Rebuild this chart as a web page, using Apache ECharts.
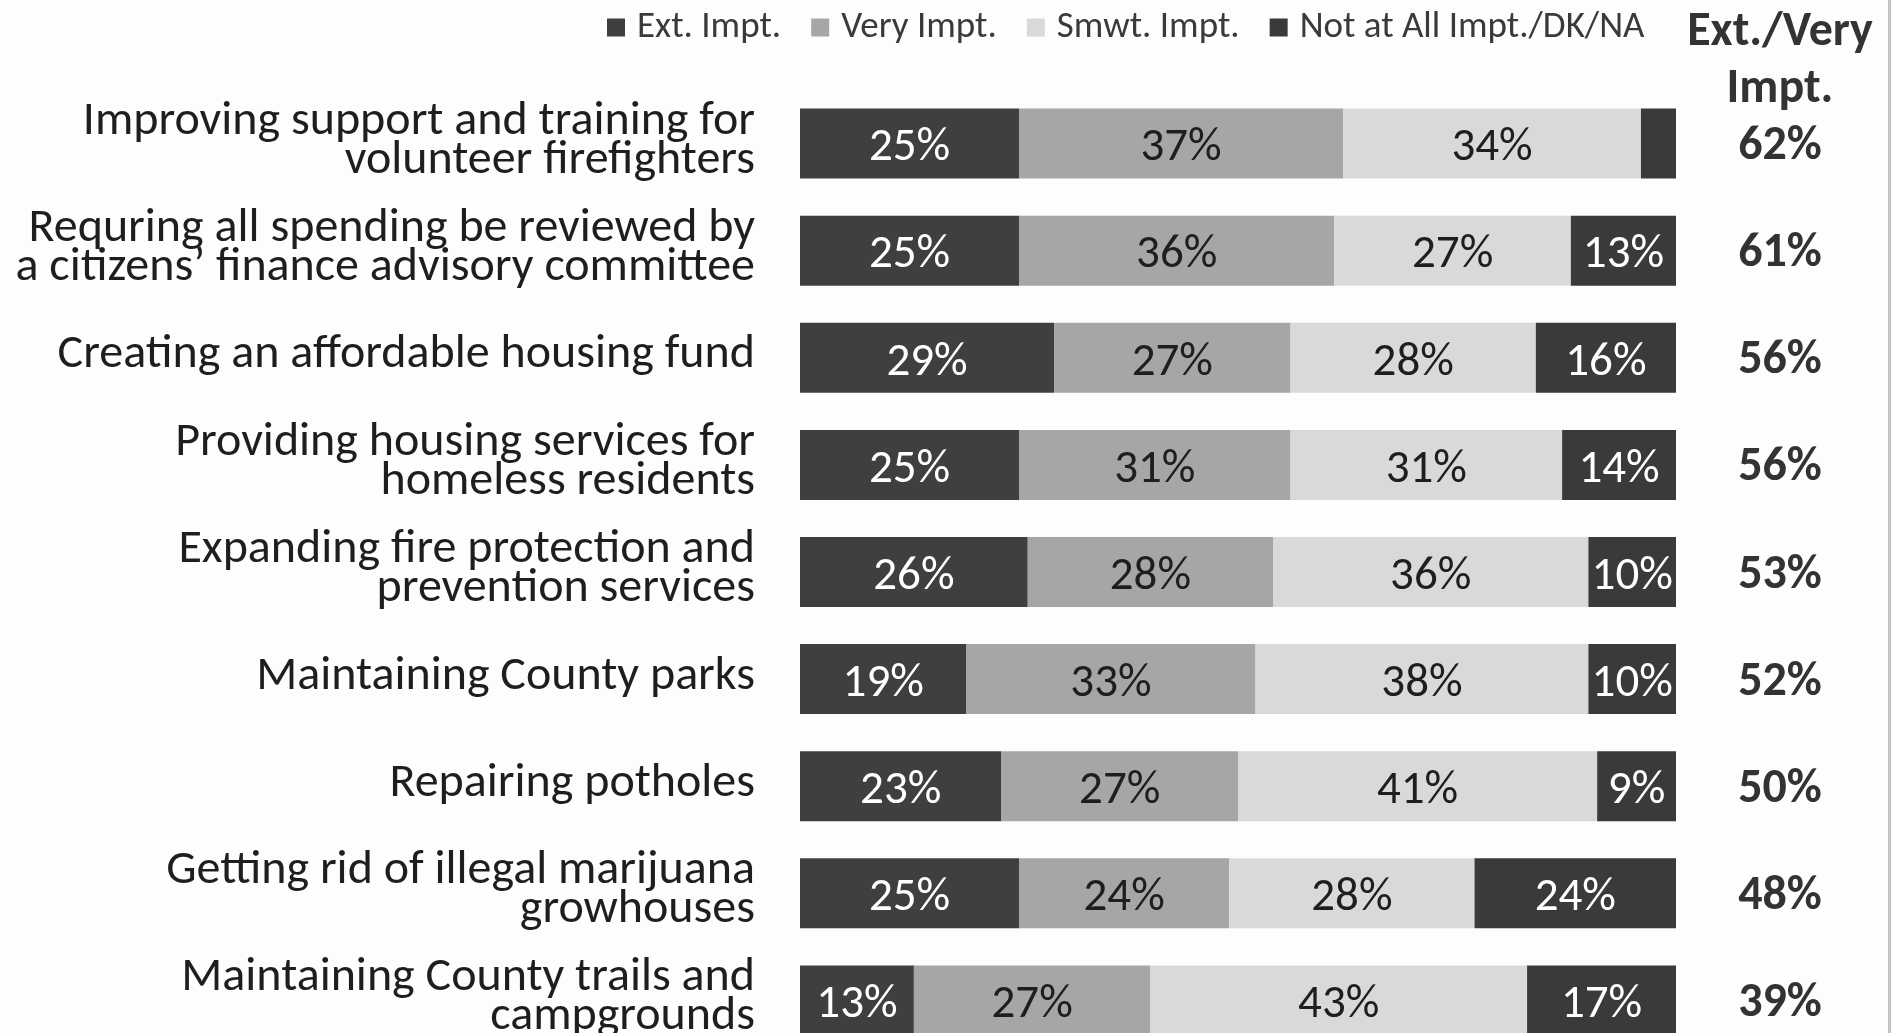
<!DOCTYPE html>
<html>
<head>
<meta charset="utf-8">
<script src="https://cdn.jsdelivr.net/npm/echarts@6/dist/echarts.min.js"></script>
<style>
html,body{margin:0;padding:0;background:#fdfdfd;}
#c{width:1893px;height:1033px;}
</style>
</head>
<body>
<div id="c"></div>
<script>
const categories = [
  "Improving support and training for\nvolunteer firefighters",
  "Requring all spending be reviewed by\na citizens\u2019 finance advisory committee",
  "Creating an affordable housing fund",
  "Providing housing services for\nhomeless residents",
  "Expanding fire protection and\nprevention services",
  "Maintaining County parks",
  "Repairing potholes",
  "Getting rid of illegal marijuana\ngrowhouses",
  "Maintaining County trails and\ncampgrounds"
];
const seriesNames = ["Ext. Impt.", "Very Impt.", "Smwt. Impt.", "Not at All Impt./DK/NA"];
const extImpt   = [25, 25, 29, 25, 26, 19, 23, 25, 13];
const veryImpt  = [37, 36, 27, 31, 28, 33, 27, 24, 27];
const smwtImpt  = [34, 27, 28, 31, 36, 38, 41, 28, 43];
const notAtAll  = [4, 13, 16, 14, 10, 10, 9, 24, 17];
const extVery   = [62, 61, 56, 56, 53, 52, 50, 48, 39];
const headerText = "Ext./Very\nImpt.";

const FONT = "Carlito, Lato, 'Open Sans', sans-serif";
const colors = ["#3f3f3f", "#a6a6a6", "#d9d9d9", "#3a3a3a"];
const labelColors = ["#ffffff", "#1e1e1e", "#1e1e1e", "#ffffff"];
const allData = [extImpt, veryImpt, smwtImpt, notAtAll];

const chart = echarts.init(document.getElementById('c'));
const series = allData.map((arr, i) => ({
  name: seriesNames[i],
  type: 'bar',
  stack: 'total',
  barWidth: 70,
  clip: true,
  itemStyle: { color: colors[i] },
  label: {
    show: true,
    position: 'inside',
    offset: [0, 5],
    formatter: p => p.value + '%',
    color: labelColors[i],
    fontFamily: FONT,
    fontSize: 47
  },
  emphasis: { disabled: true },
  data: arr.map(v => v < 5 ? { value: v, label: { show: false } } : v)
}));

chart.setOption({
  backgroundColor: '#fdfdfd',
  animation: false,
  legend: {
    data: seriesNames,
    left: 602,
    top: 4,
    icon: 'rect',
    itemWidth: 18,
    itemHeight: 18,
    itemGap: 30,
    selectedMode: false,
    textStyle: { fontFamily: FONT, fontSize: 37, color: '#3a3a3a', padding: [0, 0, 0, 7] }
  },
  graphic: [
    {
      type: 'text',
      x: 1780, y: 4,
      style: {
        text: headerText,
        fontFamily: FONT, fontSize: 48, fontWeight: 'bold',
        fill: '#333333', textAlign: 'center', lineHeight: 57
      }
    },
    {
      type: 'rect',
      shape: { x: 1888, y: 0, width: 3, height: 1033 },
      style: { fill: '#c4c4c4' },
      silent: true
    }
  ],
  grid: { left: 800, top: 90, width: 876, height: 964, outerBoundsMode: 'none', containLabel: false },
  xAxis: {
    type: 'value', min: 0, max: 100, show: false
  },
  yAxis: [
    {
      type: 'category',
      inverse: true,
      data: categories,
      axisLine: { show: false },
      axisTick: { show: false },
      axisLabel: {
        margin: 45,
        fontFamily: FONT, fontSize: 48, lineHeight: 39,
        color: '#1e1e1e', align: 'right',
        formatter: v => v + '\n{s| }',
        rich: { s: { fontSize: 1, lineHeight: 5, height: 5 } }
      }
    },
    {
      type: 'category',
      inverse: true,
      position: 'right',
      data: extVery.map(v => v + '%'),
      axisLine: { show: false },
      axisTick: { show: false },
      axisLabel: {
        margin: 104,
        align: 'center',
        formatter: v => '{v|' + v + '}',
        rich: {
          v: {
            fontFamily: FONT, fontSize: 48, fontWeight: 'bold',
            color: '#333333', padding: [7, 0, 0, 0]
          }
        }
      }
    }
  ],
  series: series
});
</script>
</body>
</html>
